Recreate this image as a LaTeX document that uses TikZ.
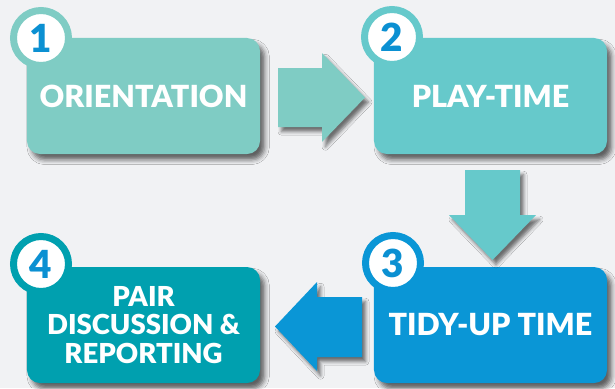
\documentclass[tikz,border=0pt]{standalone}
\usepackage{fontspec}
\setmainfont{Lato}[BoldFont={Lato Black}]
\usetikzlibrary{positioning}
\usetikzlibrary{shadows.blur}
\definecolor{c_bg}{HTML}{F1F2F4}
\definecolor{c_orient}{HTML}{7FCCC4}
\definecolor{c_play}{HTML}{66C9CB}
\definecolor{c_tidy}{HTML}{0A96D6}
\definecolor{c_pair}{HTML}{00A0AF}
\definecolor{c_digit}{HTML}{0B90D2}
\tikzset{
        stagenode/.style={align=center,inner sep=0pt},
        % Stage boxes
        stage_box/.style={stagenode, rectangle, rounded corners=0.39cm, text=white, font=\bfseries\fontsize{26}{28}\selectfont,
            minimum width=6.99cm, minimum height=3.48cm,
            blur shadow={shadow xshift=4pt, shadow yshift=-5pt, shadow blur radius=4pt, shadow opacity=60}},
        % Number rings
        stage_num/.style={stagenode, circle, fill=white, line width=0.21cm, minimum size=1.65cm, text=c_digit,
            font=\bfseries\fontsize{33}{33}\selectfont},
        % Block arrows
        stage_arrow/.style={blur shadow={shadow xshift=3pt, shadow yshift=-4pt, shadow blur radius=3pt, shadow opacity=55}}
}
\begin{document}
\begin{tikzpicture}[x=0.03cm, y=-0.03cm]
    \fill[c_bg] (0,0) rectangle (615,388);

    % boxes
    \node[stage_box, fill=c_orient] (orient) at (143.5,96) {ORIENTATION};
    \node[stage_box, fill=c_play] (play) at (490.5,96) {PLAY-TIME};
    \node[stage_box, fill=c_tidy] (tidy) at (490.5,325) {TIDY-UP TIME};
    \node[stage_box, fill=c_pair, font=\bfseries\fontsize{23.5}{24.5}\selectfont] (pair) at (143.5,325) {PAIR\\DISCUSSION \&\\REPORTING};

    % numbers
    \node[stage_num, draw=c_orient] (num1) at (41,38) {1};
    \node[stage_num, draw=c_play] (num2) at (392,37) {2};
    \node[stage_num, draw=c_tidy] (num3) at (393,263) {3};
    \node[stage_num, draw=c_pair] (num4) at (41,264) {4};

    % arrows
    \fill[stage_arrow, c_orient] (278,68) -- (322,68) -- (322,53) -- (365,97.5) -- (322,142) -- (322,127) -- (278,127) -- cycle;
    \fill[stage_arrow, c_play] (465,170) -- (520,170) -- (520,215) -- (536,215) -- (492.5,260) -- (449,215) -- (465,215) -- cycle;
    \fill[stage_arrow, c_tidy] (362,297) -- (362,357) -- (317,357) -- (317,371) -- (275,326.5) -- (317,282) -- (317,297) -- cycle;
\end{tikzpicture}
\end{document}
